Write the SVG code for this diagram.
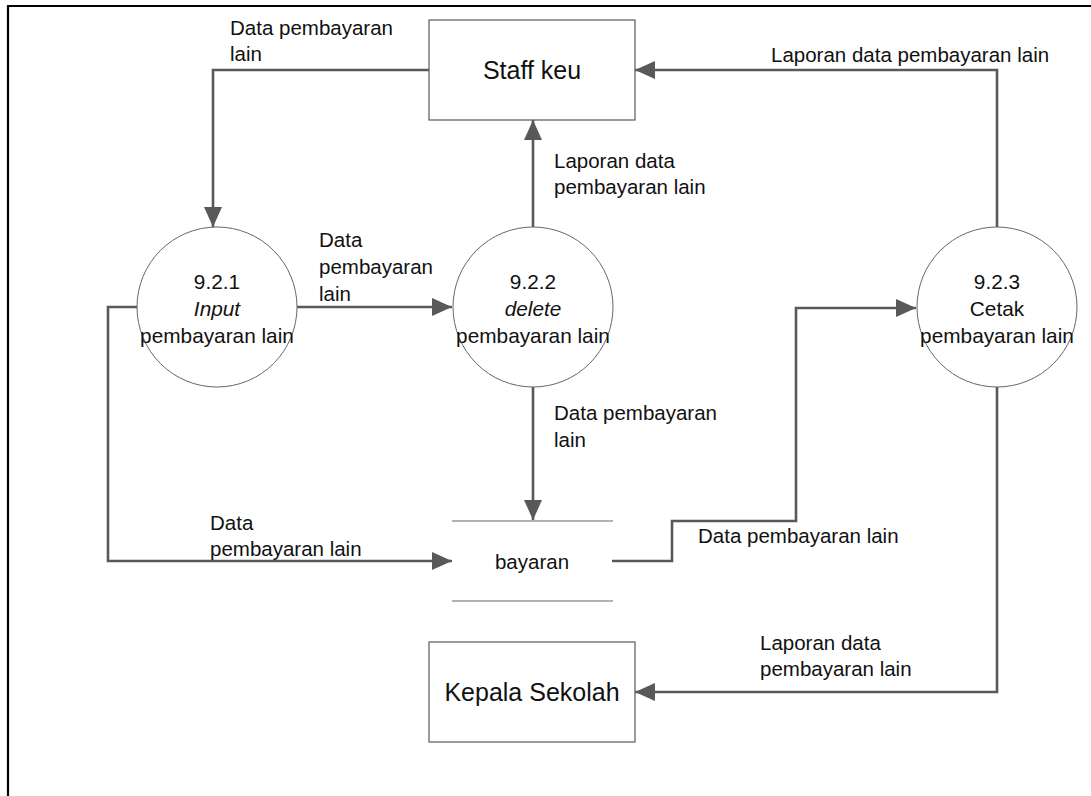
<svg xmlns="http://www.w3.org/2000/svg" width="1091" height="796" viewBox="0 0 1091 796">
<defs>
<style>
text{font-family:"Liberation Sans",Arial,sans-serif;fill:#111;}
.lbl{font-size:20.5px;}
.ent{font-size:25px;}
.proc{font-size:20.8px;text-anchor:middle;}
.box{fill:#fff;stroke:#666;stroke-width:1.3;}
.circ{fill:#fff;stroke:#666;stroke-width:1;}
.flow{fill:none;stroke:#595959;stroke-width:2.6;}
.store{stroke:#999;stroke-width:1.6;}
</style>
<marker id="ah" viewBox="0 0 20 18" refX="20" refY="9" markerWidth="20" markerHeight="18" markerUnits="userSpaceOnUse" orient="auto">
<path d="M0,0 L20,9 L0,18 Z" fill="#595959"/>
</marker>
</defs>
<rect width="1091" height="796" fill="#fff"/>
<path d="M8,797 V6 H1092" fill="none" stroke="#000" stroke-width="2.2"/>

<g id="connectors">
<path class="flow" d="M429,70 H213 V227" marker-end="url(#ah)"/>
<path class="flow" d="M297,307 H452" marker-end="url(#ah)"/>
<path class="flow" d="M533,227 V120" marker-end="url(#ah)"/>
<path class="flow" d="M533,387 V520" marker-end="url(#ah)"/>
<path class="flow" d="M137,307 H108 V561 H452" marker-end="url(#ah)"/>
<path class="flow" d="M612,561 H672 V521 H796 V308 H916" marker-end="url(#ah)"/>
<path class="flow" d="M997,227 V70 H635" marker-end="url(#ah)"/>
<path class="flow" d="M997,387 V692 H635" marker-end="url(#ah)"/>
</g>

<g id="labels">
<text class="lbl" x="230" y="35">Data pembayaran</text>
<text class="lbl" x="230" y="61">lain</text>
<text class="lbl" x="771" y="62">Laporan data pembayaran lain</text>
<text class="lbl" x="554" y="168">Laporan data</text>
<text class="lbl" x="554" y="194">pembayaran lain</text>
<text class="lbl" x="319" y="247">Data</text>
<text class="lbl" x="319" y="274">pembayaran</text>
<text class="lbl" x="319" y="301">lain</text>
<text class="lbl" x="554" y="420">Data pembayaran</text>
<text class="lbl" x="554" y="447">lain</text>
<text class="lbl" x="210" y="530">Data</text>
<text class="lbl" x="210" y="556">pembayaran lain</text>
<text class="lbl" x="698" y="543">Data pembayaran lain</text>
<text class="lbl" x="760" y="650">Laporan data</text>
<text class="lbl" x="760" y="676">pembayaran lain</text>
</g>

<g id="staff-keu">
<rect class="box" x="429" y="20" width="206" height="100"/>
<text class="ent" x="532" y="79" text-anchor="middle">Staff keu</text>
</g>

<g id="kepala-sekolah">
<rect class="box" x="429" y="642" width="206" height="100"/>
<text class="ent" x="532" y="701" text-anchor="middle">Kepala Sekolah</text>
</g>

<g id="p921">
<circle class="circ" cx="217" cy="307" r="80"/>
<text class="proc" x="217" y="289">9.2.1</text>
<text class="proc" x="217" y="316" font-style="italic">Input</text>
<text class="proc" x="217" y="343">pembayaran lain</text>
</g>

<g id="p922">
<circle class="circ" cx="533" cy="307" r="80"/>
<text class="proc" x="533" y="289">9.2.2</text>
<text class="proc" x="533" y="316" font-style="italic">delete</text>
<text class="proc" x="533" y="343">pembayaran lain</text>
</g>

<g id="p923">
<circle class="circ" cx="997" cy="307" r="80"/>
<text class="proc" x="997" y="289">9.2.3</text>
<text class="proc" x="997" y="316">Cetak</text>
<text class="proc" x="997" y="343">pembayaran lain</text>
</g>

<g id="store-bayaran">
<line class="store" x1="452" y1="521" x2="613" y2="521"/>
<line class="store" x1="452" y1="601" x2="613" y2="601"/>
<text x="532" y="569" font-size="20.5" text-anchor="middle">bayaran</text>
</g>
</svg>
